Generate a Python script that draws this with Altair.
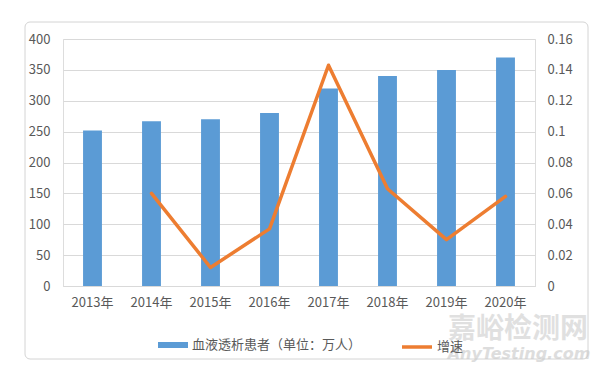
import altair as alt
import pandas as pd

years = ["2013年", "2014年", "2015年", "2016年", "2017年", "2018年", "2019年", "2020年"]
patients = [252, 267, 270, 280, 320, 340, 350, 370]
growth = [None, 0.060, 0.012, 0.037, 0.143, 0.063, 0.030, 0.058]
left_ticks = [0, 50, 100, 150, 200, 250, 300, 350, 400]
right_ticks = [0, 0.02, 0.04, 0.06, 0.08, 0.1, 0.12, 0.14, 0.16]
bar_name = "血液透析患者（单位：万人）"
line_name = "增速"
wm_cn = "嘉峪检测网"
wm_en = "AnyTesting.com"

BLUE = "#5B9BD5"
ORANGE = "#ED7D31"
GRID = "#D9D9D9"
TXT = "#595959"
FONT = "Noto Sans CJK SC"

bars_df = pd.DataFrame({"year": years, "patients": patients, "s": [bar_name] * len(years)})
line_df = pd.DataFrame({"year": years, "growth": growth, "s": [line_name] * len(years)}).dropna()

xenc = alt.X(
    "year:N", sort=years, title=None,
    scale=alt.Scale(paddingInner=0.68, paddingOuter=0.34),
    axis=alt.Axis(labelAngle=0, ticks=False, domain=True, domainColor=GRID,
                  labelFont=FONT, labelFontSize=13, labelColor=TXT, labelPadding=10, grid=False),
)

border = alt.Chart(pd.DataFrame({"a": [0]})).mark_rect(
    fillOpacity=0, stroke="#D4D4D4", strokeWidth=1, cornerRadius=5
).encode(x=alt.value(-38), x2=alt.value(525), y=alt.value(-17), y2=alt.value(320))

bar = alt.Chart(bars_df).mark_bar(color=BLUE).encode(
    x=xenc,
    y=alt.Y("patients:Q", title=None,
            scale=alt.Scale(domain=[0, 400], nice=False),
            axis=alt.Axis(values=left_ticks, ticks=False, domain=False, grid=True, gridColor=GRID,
                          labelFont=FONT, labelFontSize=13, labelColor=TXT, labelPadding=13)),
    color=alt.Color("s:N", scale=alt.Scale(domain=[bar_name], range=[BLUE]),
                    legend=alt.Legend(orient="none", legendX=95, legendY=291, title=None,
                                      symbolType="M-1,-0.2H1V0.2H-1Z", symbolSize=900,
                                      symbolStrokeWidth=0, padding=0, labelOffset=4, labelLimit=400,
                                      labelFont=FONT, labelFontSize=13, labelColor=TXT)),
)

line = alt.Chart(line_df).mark_line(strokeWidth=3.5, strokeJoin="round", strokeCap="round").encode(
    x=alt.X("year:N", sort=years),
    y=alt.Y("growth:Q", title=None,
            scale=alt.Scale(domain=[0, 0.16], nice=False),
            axis=alt.Axis(orient="right", values=right_ticks, format="~g", ticks=False, domain=False,
                          grid=False, labelFont=FONT, labelFontSize=13, labelColor=TXT, labelPadding=12)),
    stroke=alt.Stroke("s:N", scale=alt.Scale(domain=[line_name], range=[ORANGE]),
                      legend=alt.Legend(orient="none", legendX=337, legendY=291, title=None,
                                        symbolType="stroke", symbolSize=900, symbolStrokeWidth=3.5,
                                        padding=0, labelOffset=3, labelLimit=200,
                                        labelFont=FONT, labelFontSize=13, labelColor=TXT)),
)

wm1 = alt.Chart(pd.DataFrame({"t": [wm_cn]})).mark_text(
    font=FONT, fontSize=28, fontWeight="bold", color="#C8C8C8", opacity=0.55, align="center", baseline="middle"
).encode(text="t:N", x=alt.value(455), y=alt.value(291))

wm2 = alt.Chart(pd.DataFrame({"t": [wm_en]})).mark_text(
    font="DejaVu Sans", fontSize=16, fontStyle="italic", fontWeight="bold", color="#C8C8C8", opacity=0.6,
    align="center", baseline="middle"
).encode(text="t:N", x=alt.value(456), y=alt.value(315))

chart = alt.layer(border, bar, line, wm1, wm2).resolve_scale(y="independent").properties(
    width=472, height=247,
    autosize=alt.AutoSizeParams(type="none"),
    padding={"left": 55, "top": 31, "right": 57, "bottom": 78},
).configure_view(strokeWidth=0).configure(background="white")

chart.save("out.html", embed_options={"renderer": "svg", "actions": False})
